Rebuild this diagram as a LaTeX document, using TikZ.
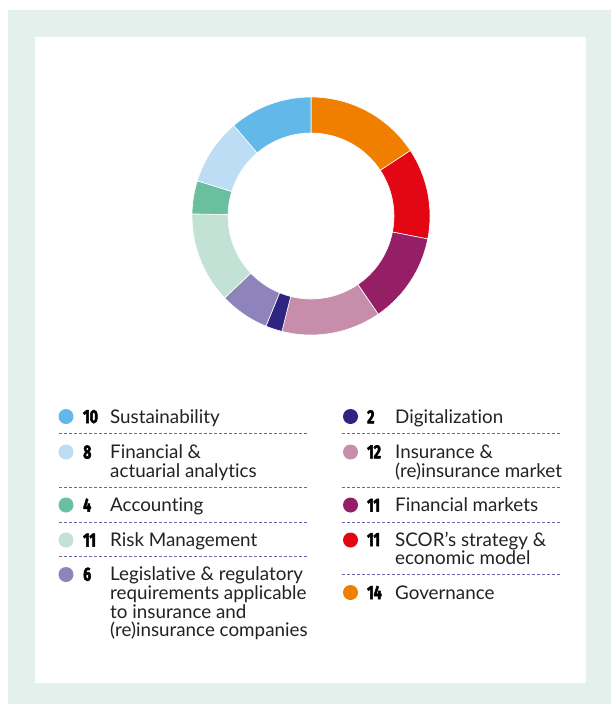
\documentclass[tikz,border=0pt]{standalone}
\usepackage{fontspec}
\setmainfont{Lato}[Ligatures={NoCommon}]
\newfontfamily\numfont[FakeStretch=0.74,FakeBold=2.6]{Fira Sans}
\definecolor{frame}{HTML}{E4F0EC}
\definecolor{sust}{HTML}{62B8E8}
\definecolor{fina}{HTML}{BCDDF4}
\definecolor{acc}{HTML}{6ABFA0}
\definecolor{risk}{HTML}{C1E2D5}
\definecolor{leg}{HTML}{8F83BB}
\definecolor{dig}{HTML}{2E2581}
\definecolor{ins}{HTML}{C78EAC}
\definecolor{finm}{HTML}{951F66}
\definecolor{scor}{HTML}{E30613}
\definecolor{gov}{HTML}{F07F00}
\definecolor{dashc}{HTML}{6A62B5}
\definecolor{txt}{HTML}{222222}
\begin{document}
\begin{tikzpicture}[x=1pt,y=-1pt,
  dot/.style={circle,inner sep=0pt,minimum size=15pt,fill=#1},
  num/.style={anchor=base west,inner sep=0pt,text=black,font=\numfont\bfseries\fontsize{19}{19}\selectfont},
  lbl/.style={anchor=base west,inner sep=0pt,align=left,text=txt,font=\fontsize{18.8}{18.7}\selectfont},
  sep/.style={draw=dashc,line width=1pt,dash pattern=on 3pt off 2pt}]
\useasboundingbox (0,0) rectangle (611,704);
\fill[frame] (8,10) rectangle (611,704);
\fill[white] (35,37) rectangle (586,683);
% donut
\begin{scope}[shift={(311,216)},yscale=-1]
\foreach \a/\b/\c in {90/33.37/gov, 33.37/-11.12/scor, -11.12/-55.62/finm,
  -55.62/-104.16/ins, -104.16/-112.25/dig, -112.25/-136.52/leg,
  -136.52/-181.01/risk, -181.01/-197.19/acc, -197.19/-229.55/fina,
  -229.55/-270/sust}{
  \fill[\c,draw=white,line width=0.6pt] (\a:119) arc[start angle=\a,end angle=\b,radius=119]
    -- (\b:83) arc[start angle=\b,end angle=\a,radius=83] -- cycle;
}
\end{scope}
% left legend (multi-line labels are placed by their last baseline)
\node[dot=sust] (d1) at (66,416.5) {};
\node[num] (n1) at (83,423) {10};
\node[lbl] (t1) at (110,423) {Sustainability};
\draw[sep] (59,433) -- (307,433);
\node[dot=fina] (d2) at (66,452) {};
\node[num] (n2) at (83,458.5) {8};
\node[lbl] (t2) at (110,477.2) {Financial \&\\actuarial analytics};
\draw[sep] (59,487) -- (307,487);
\node[dot=acc] (d3) at (66,505) {};
\node[num] (n3) at (83,511.7) {4};
\node[lbl] (t3) at (110,511.7) {Accounting};
\draw[sep] (59,522) -- (307,522);
\node[dot=risk] (d4) at (66,540) {};
\node[num] (n4) at (83,546.5) {11};
\node[lbl] (t4) at (110,546.5) {Risk Management};
\draw[sep] (59,556) -- (307,556);
\node[dot=leg] (d5) at (66,574.5) {};
\node[num] (n5) at (83,580.7) {6};
\node[lbl] (t5) at (110,636.8) {Legislative \& regulatory\\requirements applicable\\to insurance and\\(re)insurance companies};
% right legend
\node[dot=dig] (d6) at (350.5,416.5) {};
\node[num] (n6) at (367,423.3) {2};
\node[lbl] (t6) at (395,423.3) {Digitalization};
\draw[sep] (342,433) -- (561,433);
\node[dot=ins] (d7) at (350.5,452) {};
\node[num] (n7) at (367,458.3) {12};
\node[lbl] (t7) at (395,477) {Insurance \&\\(re)insurance market};
\draw[sep] (342,487) -- (561,487);
\node[dot=finm] (d8) at (350.5,505) {};
\node[num] (n8) at (367,511.7) {11};
\node[lbl] (t8) at (395,511.7) {Financial markets};
\draw[sep] (342,522) -- (561,522);
\node[dot=scor] (d9) at (350.5,540) {};
\node[num] (n9) at (367,546) {11};
\node[lbl] (t9) at (395,564.7) {SCOR’s strategy \&\\economic model};
\draw[sep] (342,574) -- (561,574);
\node[dot=gov] (d10) at (350.5,592.5) {};
\node[num] (n10) at (367,599) {14};
\node[lbl] (t10) at (395,599) {Governance};
\end{tikzpicture}
\end{document}
